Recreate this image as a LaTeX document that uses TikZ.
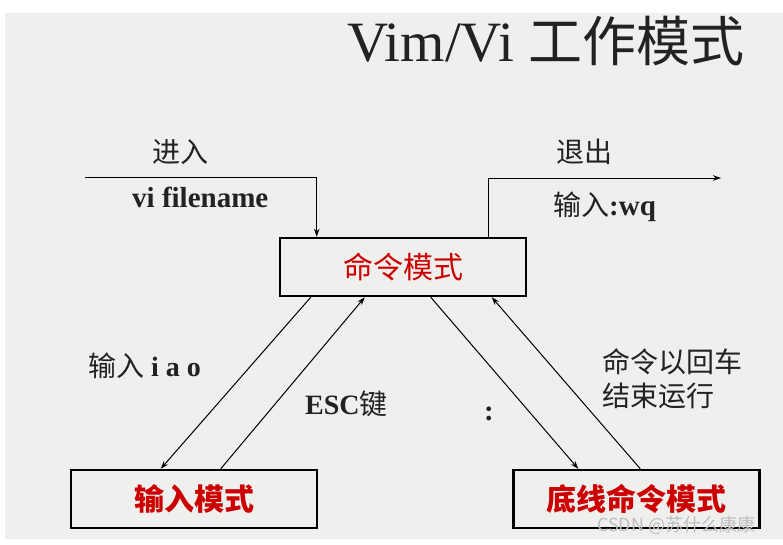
\documentclass[tikz,border=0pt]{standalone}
\usepackage{fontspec}
\setmainfont{Liberation Serif}
\newfontfamily\cjk{Noto Sans CJK SC}
\usetikzlibrary{arrows.meta}
\definecolor{bggray}{RGB}{239,239,238}
\definecolor{modered}{RGB}{204,0,0}
\definecolor{inkgray}{RGB}{34,34,34}
\definecolor{markgray}{RGB}{190,190,190}
\begin{document}
\begin{tikzpicture}[x=1pt,y=-1pt,
  modebox/.style={draw=black, line width=2.5pt, minimum width=246pt, minimum height=58pt, inner sep=0pt, text=modered},
  conn/.style={draw=black, line width=1pt, -{Stealth[length=8pt,width=5.5pt]}},
  lbl/.style={inner sep=0pt, text=inkgray, anchor=west},
  cjklbl/.style={lbl, font=\cjk\fontsize{28}{34}\selectfont},
  latlbl/.style={lbl, font=\bfseries\fontsize{29}{34}\selectfont}]
\useasboundingbox (0,0) rectangle (783,544);
\fill[white] (0,0) rectangle (783,544);
\fill[bggray] (5,13) rectangle (783,539);

% title
\node[inner sep=0pt, anchor=base west, text=inkgray, font=\fontsize{57}{62}\selectfont] (title) at (347,61) {Vim/Vi {\cjk\fontsize{54}{62}\selectfont 工作模式}};

% mode boxes
\node[modebox, font=\cjk\fontsize{30}{34}\selectfont] (cmd) at (403,267) {命令模式};
\node[modebox, font=\cjk\bfseries\fontsize{30}{34}\selectfont] (ins) at (194,499) {输入模式};
\node[modebox, font=\cjk\bfseries\fontsize{30}{34}\selectfont] (last) at (636.5,499) {底线命令模式};

% enter / exit
\coordinate (enterstart) at (85,177);
\coordinate (exitend) at (721,178);
\draw[conn] (enterstart) -| ([xshift=38pt]cmd.north west);
\draw[conn] ([xshift=210pt]cmd.north west) |- (exitend);

% mode transitions
\draw[conn] ([xshift=32pt]cmd.south west) -- ([xshift=91pt]ins.north west);
\draw[conn] ([xshift=151pt]ins.north west) -- ([xshift=86pt]cmd.south west);
\draw[conn] ([xshift=152pt]cmd.south west) -- ([xshift=66pt]last.north west);
\draw[conn] ([xshift=128pt]last.north west) -- ([xshift=213pt]cmd.south west);

% labels
\node[cjklbl] (lenter) at (152,152) {进入};
\node[latlbl] (lvi) at (132,197) {vi filename};
\node[cjklbl] (lexit) at (556,152) {退出};
\node[lbl] (lwq) at (553,207) {{\cjk\fontsize{28}{34}\selectfont 输入}{\bfseries\fontsize{29}{34}\selectfont :wq}};
\node[lbl] (liao) at (88,366) {{\cjk\fontsize{28}{34}\selectfont 输入}{\bfseries\fontsize{28}{34}\selectfont\ i a o}};
\node[lbl] (lesc) at (305,404) {{\bfseries\fontsize{28}{34}\selectfont ESC}{\cjk\fontsize{28}{34}\selectfont 键}};
\node[latlbl] (lcolon) at (484,414) {:};
\node[cjklbl, align=left] (lret) at (602,379) {命令以回车\\结束运行};

% watermark
\node[inner sep=0pt, anchor=west, text=markgray, font=\cjk\fontsize{18}{20}\selectfont] (mark) at (597,525) {CSDN @苏什么康康};
\end{tikzpicture}
\end{document}
